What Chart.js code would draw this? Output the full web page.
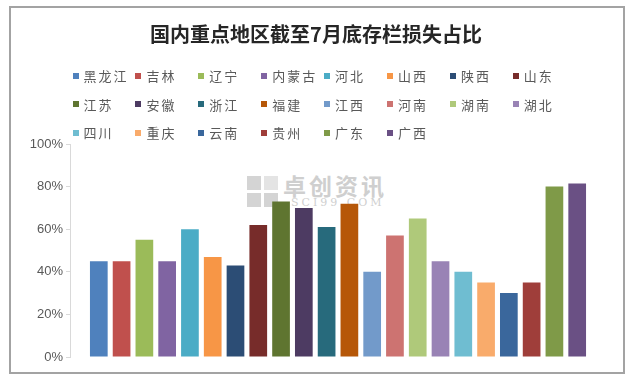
<!DOCTYPE html>
<html>
<head>
<meta charset="utf-8">
<script src="https://cdn.jsdelivr.net/npm/chart.js@4/dist/chart.umd.min.js"></script>
<style>
  html, body { margin: 0; padding: 0; background: #fff; }
  #wrap { position: relative; width: 638px; height: 381px; overflow: hidden; }
  #frame {
    position: absolute; left: 9px; top: 6px; width: 616px; height: 368px;
    box-sizing: border-box; border: 2px solid #a3a3a3; background: #fff;
  }
  #wm { position: absolute; left: 247px; top: 173px; color: #cfcfcf; }
  #wm .logo { position: absolute; left: 0; top: 3px; width: 32px; height: 32px; }
  #wm .logo span { position: absolute; width: 14px; height: 14px; background: #d4d4d4; }
  #wm .t1 {
    position: absolute; left: 36px; top: 0; white-space: nowrap;
    font: bold 23px "Noto Sans CJK SC", sans-serif; letter-spacing: 3px; line-height: 24px;
  }
  #wm .t2 {
    position: absolute; left: 44px; top: 24px; white-space: nowrap;
    font: 11px "DejaVu Serif", serif; letter-spacing: 3px; line-height: 12px;
  }
  #c { position: absolute; left: 0; top: 0; }
  #legend { position: absolute; left: 0; top: 0; }
  .item {
    position: absolute; display: flex; align-items: center; height: 16px; white-space: nowrap;
    font: 13px "Noto Sans CJK SC", sans-serif; letter-spacing: 2px; color: #595959;
  }
  .item i { display: inline-block; width: 6px; height: 6px; margin-right: 5px; }
</style>
</head>
<body>
<div id="wrap">
  <div id="frame"></div>
  <div id="wm">
    <div class="logo">
      <span style="left:0;top:0"></span><span style="left:17px;top:0;background:#e4e4e4"></span>
      <span style="left:0;top:17px"></span><span style="left:17px;top:17px"></span>
    </div>
    <div class="t1">卓创资讯</div>
    <div class="t2">SCI99.COM</div>
  </div>
  <canvas id="c" width="638" height="381"></canvas>
  <div id="legend"></div>
</div>
<script>
// 国内重点地区截至7月底存栏损失占比 (%)
const titleText = '国内重点地区截至7月底存栏损失占比';
const categories = ['7月底'];
const provinces = [
  '黑龙江', '吉林', '辽宁', '内蒙古', '河北', '山西', '陕西', '山东',
  '江苏', '安徽', '浙江', '福建', '江西', '河南', '湖南', '湖北',
  '四川', '重庆', '云南', '贵州', '广东', '广西',
];
const lossPct = [
  45, 45, 55, 45, 60, 47, 43, 62,
  73, 70, 61, 72, 40, 57, 65, 45,
  40, 35, 30, 35, 80, 81.5,
];
const barColors = [
  '#4f81bd', '#c0504d', '#9bbb59', '#8064a2', '#4bacc6', '#f79646', '#2c4d75', '#772c2a',
  '#5f7530', '#4d3b62', '#276a7c', '#b65708', '#729aca', '#cd7371', '#afc97a', '#9983b5',
  '#6fbdd1', '#f9ab6b', '#3a679c', '#9f3e3a', '#7f9a48', '#6a5084',
];
const yMax = 100;
const yStep = 20;

const textGray = '#595959';
const axisGray = '#d9d9d9';

// legend: Excel style fixed columns, 8 per row
function buildLegend() {
  const box = document.getElementById('legend');
  provinces.forEach((name, i) => {
    const col = i % 8;
    const row = Math.floor(i / 8);
    const el = document.createElement('div');
    el.className = 'item';
    el.style.left = (72.5 + col * 62.9) + 'px';
    el.style.top = (67.5 + row * 28.5) + 'px';
    el.innerHTML = `<i style="background:${barColors[i]}"></i>${name}`;
    box.appendChild(el);
  });
}

function renderChart() {
  const canvas = document.getElementById('c');
  return new Chart(canvas, {
    type: 'bar',
    data: {
      labels: categories,
      datasets: provinces.map((name, i) => ({
        label: name,
        data: [lossPct[i]],
        backgroundColor: barColors[i],
        borderWidth: 0,
        categoryPercentage: 0.935,
        barPercentage: 0.777,
      })),
    },
    options: {
      responsive: false,
      animation: false,
      layout: { padding: { left: 26, right: 32, top: 0, bottom: 24 } },
      plugins: {
        legend: { display: false },
        tooltip: { enabled: false },
        title: {
          display: true,
          text: titleText,
          color: '#262626',
          font: { family: '"Noto Sans CJK SC", sans-serif', size: 20, weight: 'bold' },
          padding: { top: 22, bottom: 98 },
        },
      },
      scales: {
        x: { display: false },
        y: {
          min: 0,
          max: yMax,
          afterFit: (scale) => { scale.width = 44; },
          ticks: {
            stepSize: yStep,
            padding: 3,
            color: textGray,
            font: { family: '"Liberation Sans", Arial, sans-serif', size: 13 },
            callback: (v) => v + '%',
          },
          grid: { drawOnChartArea: false, tickLength: 4, color: axisGray },
          border: { color: axisGray },
        },
      },
    },
  });
}

buildLegend();
renderChart();
</script>
</body>
</html>
